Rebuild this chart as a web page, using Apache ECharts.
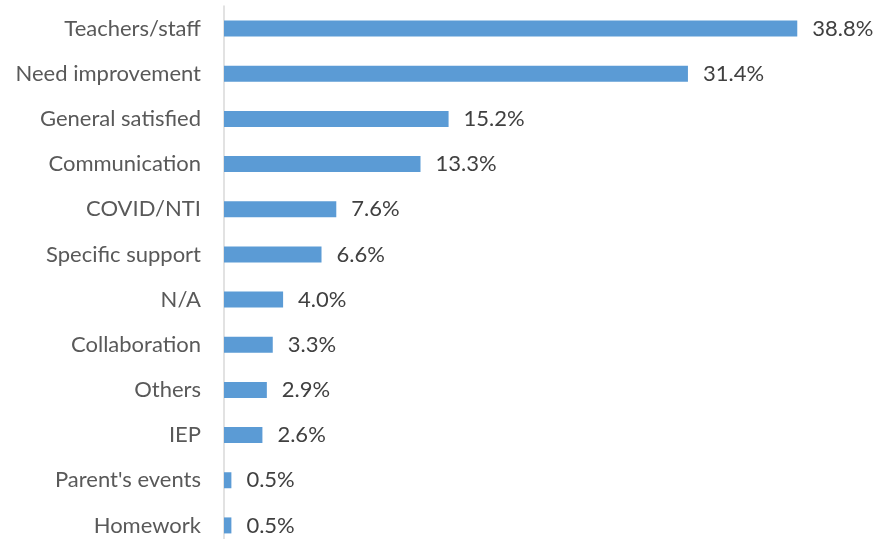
<!DOCTYPE html>
<html>
<head>
<meta charset="utf-8">
<script src="https://cdn.jsdelivr.net/npm/echarts@6/dist/echarts.min.js"></script>
<style>
  html, body { margin: 0; padding: 0; background: #fff; }
  #main { width: 876px; height: 539px; }
</style>
</head>
<body>
<div id="main"></div>
<script>
// top to bottom as in the picture
var categories = ['Teachers/staff', 'Need improvement', 'General satisfied', 'Communication',
  'COVID/NTI', 'Specific support', 'N/A', 'Collaboration', 'Others', 'IEP',
  "Parent's events", 'Homework'];
var values = [38.8, 31.4, 15.2, 13.3, 7.6, 6.6, 4.0, 3.3, 2.9, 2.6, 0.5, 0.5];

var chart = echarts.init(document.getElementById('main'));
var font = 'Lato, "Open Sans", sans-serif';

var option = {
  animation: false,
  grid: { left: 224, top: 6, width: 591, height: 542, outerBoundsMode: 'none' },
  xAxis: {
    type: 'value',
    min: 0,
    max: 40,
    show: false
  },
  yAxis: {
    type: 'category',
    inverse: true,
    data: categories,
    axisLine: { show: true, lineStyle: { color: '#d9d9d9', width: 1.5 } },
    axisTick: { show: false },
    axisLabel: { color: '#595959', fontSize: 22, fontFamily: font, margin: 23 }
  },
  series: [{
    type: 'bar',
    data: values,
    barWidth: 16,
    itemStyle: { color: '#5b9bd5' },
    label: {
      show: true,
      position: 'right',
      distance: 15,
      color: '#404040',
      fontSize: 22,
      fontFamily: font,
      formatter: function (p) { return p.value.toFixed(1) + '%'; }
    }
  }]
};
chart.setOption(option);
</script>
</body>
</html>
